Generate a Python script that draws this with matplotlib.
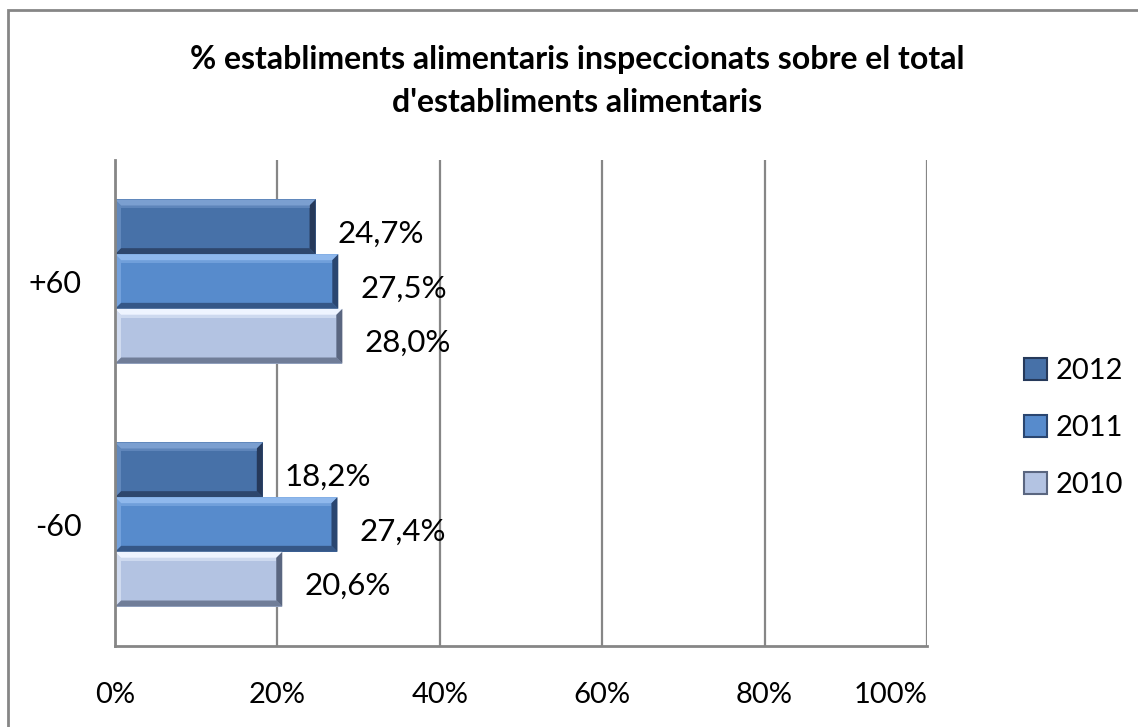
import matplotlib
matplotlib.use('Agg')
import matplotlib.pyplot as plt
from matplotlib.patches import Polygon, Rectangle, Patch
import numpy as np

plt.rcParams['font.family'] = ['Lato', 'DejaVu Sans']

categories = ['-60', '+60']
years = ['2012', '2011', '2010']
values_2012 = [18.2, 24.7]
values_2011 = [27.4, 27.5]
values_2010 = [20.6, 28.0]
value_labels = {
    '2012': ['18,2%', '24,7%'],
    '2011': ['27,4%', '27,5%'],
    '2010': ['20,6%', '28,0%'],
}
xticks = [0, 20, 40, 60, 80, 100]
xtick_labels = ['0%', '20%', '40%', '60%', '80%', '100%']

# body colour, light edge, dark edge
styles = {
    '2012': ('#4771a8', '#7b9fd0', '#26395a'),
    '2011': ('#578bcc', '#8fb8ec', '#2a4670'),
    '2010': ('#b3c3e2', '#eef4ff', '#5a6680'),
}

W, H = 1138, 727
fig = plt.figure(figsize=(W / 100, H / 100), dpi=100)
fig.patch.set_facecolor('white')

# outer chart border (cut off at right and bottom, like the reference)
fig.add_artist(Rectangle((8 / W, -0.05), 1.2, (H - 10) / H + 0.05,
                         transform=fig.transFigure, fill=False,
                         edgecolor='#868686', linewidth=2))

left, right, top, bottom = 115, 927, 160, 646
ax = fig.add_axes([left / W, (H - bottom) / H, (right - left) / W, (bottom - top) / H])

h = 0.225
ypos = np.arange(len(categories))
offsets = {'2012': h, '2011': 0.0, '2010': -h}
series = {'2012': values_2012, '2011': values_2011, '2010': values_2010}

ax.set_xlim(0, 100)
ax.set_ylim(-0.5, 1.5)

# pixel -> data sizes for the bevel
px_x = 100 / (right - left)
px_y = 2.0 / (bottom - top)
bev = 6

for yr in years:
    body, light, dark = styles[yr]
    bars = ax.barh(ypos + offsets[yr], series[yr], height=h, color=body,
                   edgecolor='none', zorder=3)
    for b, lab in zip(bars, value_labels[yr]):
        x0, y0 = b.get_x(), b.get_y()
        x1, y1 = x0 + b.get_width(), y0 + b.get_height()
        bx, by = bev * px_x, bev * px_y
        # top bevel (light)
        ax.add_patch(Polygon([(x0, y1), (x1, y1), (x1 - bx, y1 - by), (x0 + bx, y1 - by)],
                             closed=True, facecolor=light, edgecolor='none', zorder=4))
        # bottom bevel (dark)
        ax.add_patch(Polygon([(x0, y0), (x1, y0), (x1 - bx, y0 + by), (x0 + bx, y0 + by)],
                             closed=True, facecolor=dark, edgecolor='none', alpha=0.75, zorder=4))
        # right bevel (dark)
        ax.add_patch(Polygon([(x1, y0), (x1, y1), (x1 - bx, y1 - by), (x1 - bx, y0 + by)],
                             closed=True, facecolor=dark, edgecolor='none', zorder=4))
        # left bevel (slightly light)
        ax.add_patch(Polygon([(x0, y0), (x0, y1), (x0 + bx, y1 - by), (x0 + bx, y0 + by)],
                             closed=True, facecolor=light, edgecolor='none', alpha=0.5, zorder=4))
        # inner highlight stripe
        ax.add_patch(Rectangle((x0 + bx, y1 - by - 3 * px_y), x1 - x0 - 2 * bx, 3 * px_y,
                               facecolor=light, edgecolor='none', alpha=0.45, zorder=4))
        ax.text(x1 + 22 * px_x, y0 + b.get_height() / 2 - 7 * px_y, lab,
                ha='left', va='center', fontsize=22.5, color='black', zorder=5)

ax.set_xticks(xticks)
ax.set_xticklabels(xtick_labels)
ax.set_yticks(ypos)
ax.set_yticklabels(categories)
ax.tick_params(axis='x', length=0, pad=26, labelsize=21)
ax.tick_params(axis='y', length=0, pad=24, labelsize=22)
# last label is pushed inside the chart area, as in the reference
ax.get_xticklabels()[-1].set_horizontalalignment('right')
ax.get_xticklabels()[-1].set_x(101.3)
ax.grid(axis='x', color='#868686', linewidth=1.6, zorder=0)
ax.set_axisbelow(True)
for s in ['top', 'right']:
    ax.spines[s].set_visible(False)
for s in ['left', 'bottom']:
    ax.spines[s].set_color('#868686')
    ax.spines[s].set_linewidth(2)
    ax.spines[s].set_zorder(6)

fig.text(577 / W, 1 - 60 / H, '% establiments alimentaris inspeccionats sobre el total',
         ha='center', va='center', fontsize=23, fontweight='bold')
fig.text(577 / W, 1 - 102 / H, "d'establiments alimentaris",
         ha='center', va='center', fontsize=23, fontweight='bold')

handles = [Patch(facecolor=styles[yr][0], edgecolor=styles[yr][2], linewidth=1.5) for yr in years]
fig.legend(handles, years, loc='center left', bbox_to_anchor=(1012 / W, 1 - 428 / H),
           frameon=False, fontsize=21, handlelength=0.8, handleheight=0.8,
           handletextpad=0.3, labelspacing=1.05, borderaxespad=0)

fig.savefig('out.png', dpi=100)
